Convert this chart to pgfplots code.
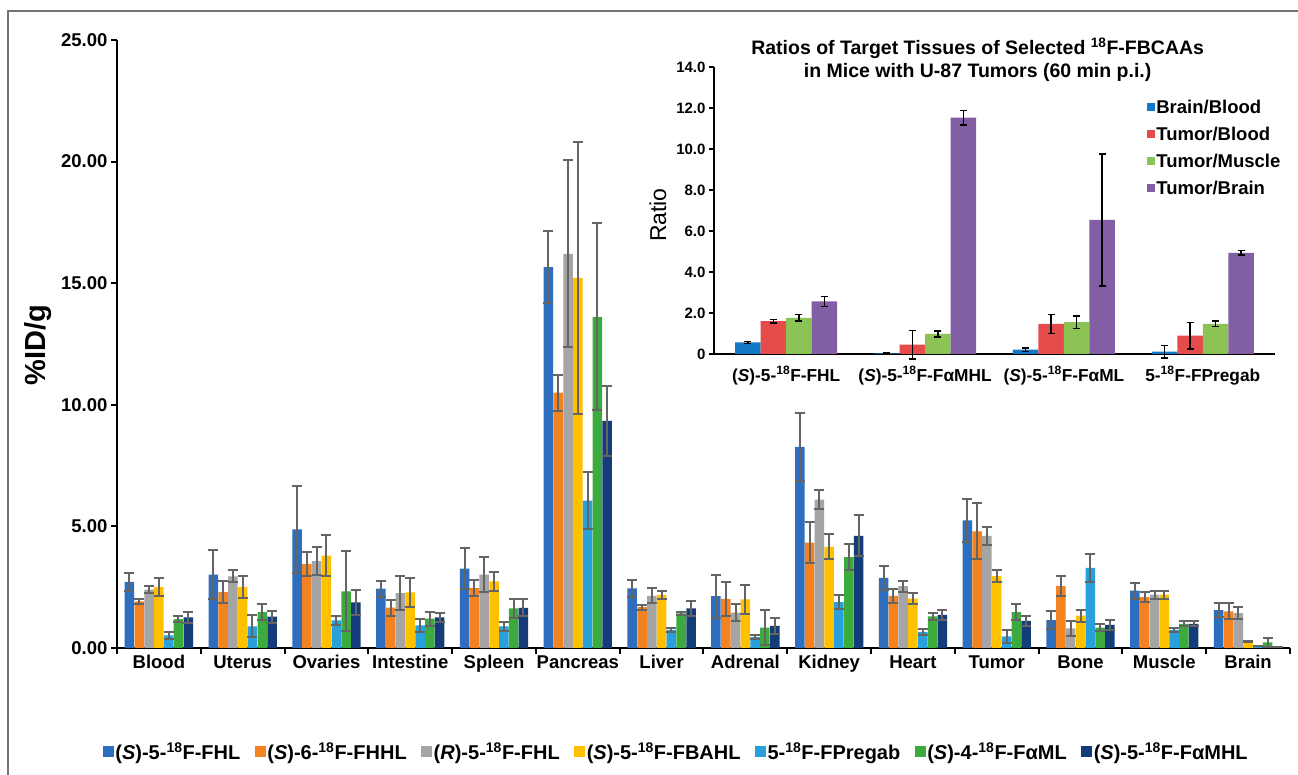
\documentclass[border=0pt]{standalone}
\usepackage{pgfplots}
\pgfplotsset{compat=1.18}
\usepackage{pgfplotstable}
\usepackage{fontspec}
\setmainfont{Liberation Sans}

\definecolor{cA}{RGB}{46,110,190}
\definecolor{cB}{RGB}{245,130,32}
\definecolor{cC}{RGB}{165,165,165}
\definecolor{cD}{RGB}{255,192,0}
\definecolor{cE}{RGB}{40,160,220}
\definecolor{cF}{RGB}{60,170,60}
\definecolor{cG}{RGB}{20,60,120}
\definecolor{iA}{RGB}{20,120,200}
\definecolor{iB}{RGB}{230,75,75}
\definecolor{iC}{RGB}{140,195,85}
\definecolor{iD}{RGB}{130,95,165}
\definecolor{errgray}{RGB}{100,100,100}

\pgfplotsset{
  mainerr/.style={error bars/.cd, y dir=both, y explicit,
    error bar style={line width=2pt, draw=errgray, solid},
    error mark=-,
    error mark options={rotate=90, line width=2pt, draw=errgray, mark size=5pt, solid}},
  insterr/.style={error bars/.cd, y dir=both, y explicit,
    error bar style={line width=1.4pt, draw=black, solid},
    error mark=-,
    error mark options={rotate=90, line width=1.4pt, draw=black, mark size=3.5pt, solid}},
}

\pgfplotstableread{
x  b1    e1   b2    e2   b3    e3   b4    e4   b5   e5   b6    e6   b7   e7
0  2.72  0.37 1.92  0.10 2.40  0.14 2.50  0.38 0.52 0.14 1.19  0.14 1.26 0.22
1  3.02  1.00 2.30  0.47 2.95  0.25 2.50  0.45 0.89 0.45 1.48  0.33 1.29 0.25
2  4.88  1.80 3.46  0.48 3.57  0.58 3.80  0.85 1.14 0.18 2.33  1.65 1.88 0.52
3  2.44  0.33 1.66  0.33 2.26  0.69 2.29  0.60 0.93 0.26 1.21  0.29 1.26 0.18
4  3.26  0.85 2.46  0.32 3.02  0.73 2.74  0.38 0.89 0.19 1.63  0.40 1.65 0.35
5  15.66 1.47 10.50 0.74 16.21 3.84 15.22 5.60 6.06 1.16 13.62 3.84 9.34 1.45
6  2.45  0.35 1.68  0.10 2.14  0.31 2.18  0.17 0.74 0.09 1.42  0.05 1.63 0.32
7  2.13  0.89 2.02  0.70 1.45  0.34 2.00  0.60 0.45 0.07 0.84  0.71 0.91 0.33
8  8.27  1.40 4.33  0.85 6.10  0.38 4.16  0.51 1.89 0.27 3.74  0.52 4.61 0.84
9  2.88  0.48 2.14  0.27 2.54  0.23 2.03  0.23 0.66 0.12 1.30  0.15 1.36 0.19
10 5.25  0.88 4.80  1.15 4.61  0.36 2.96  0.26 0.48 0.27 1.47  0.33 1.12 0.20
11 1.15  0.37 2.54  0.40 0.81  0.30 1.33  0.25 3.29 0.56 0.84  0.15 0.95 0.22
12 2.36  0.33 2.09  0.20 2.19  0.17 2.19  0.17 0.74 0.10 0.99  0.10 0.99 0.10
13 1.56  0.27 1.51  0.33 1.43  0.25 0.26  0.03 0.08 0.00 0.23  0.19 0.04 0.00
}\maindata

\pgfplotstableread{
x bb   ebb  tb   etb  tm   etm  tbr   etbr
0 0.57 0.05 1.60 0.08 1.76 0.16 2.57  0.24
1 0.03 0.04 0.46 0.70 0.98 0.15 11.53 0.36
2 0.21 0.08 1.47 0.46 1.55 0.31 6.54  3.22
3 0.11 0.30 0.90 0.65 1.47 0.13 4.93  0.11
}\insetdata

\begin{document}
\begin{tikzpicture}[x=1pt,y=1pt]
\useasboundingbox (0,0) rectangle (1298,775);
\fill[white] (0,0) rectangle (1298,775);
\draw[black!55, line width=1.3pt] (8,0) -- (8,764) -- (1298,764);

\begin{axis}[
  at={(117pt,127pt)}, anchor=south west,
  scale only axis, width=1173pt, height=608pt,
  xmin=-0.5, xmax=13.5, ymin=0, ymax=25,
  axis x line=bottom, axis y line=left,
  axis line style={-, line width=2.6pt, black},
  ybar=0.3pt, bar width=9.5pt,
  ytick={0,5,...,25},
  yticklabel style={/pgf/number format/fixed, /pgf/number format/fixed zerofill,
    /pgf/number format/precision=2, /pgf/number format/assume math mode=true,
    font=\fontsize{18.5}{20}\selectfont\bfseries},
  tick align=outside, major tick length=6pt,
  tick style={line width=2pt, black},
  xtick={-0.5,0.5,...,13.5}, xticklabels={},
  extra x ticks={0,...,13},
  extra x tick labels={Blood,Uterus,Ovaries,Intestine,Spleen,Pancreas,Liver,Adrenal,Kidney,Heart,Tumor,Bone,Muscle,Brain},
  extra x tick style={major tick length=0pt, tick style={draw=none}},
  xticklabel style={font=\fontsize{18.5}{20}\selectfont\bfseries, yshift=-4pt},
  ylabel={\%ID/g},
  ylabel style={font=\fontsize{29}{30}\selectfont\bfseries, at={(axis description cs:-0.067,0.498)}, anchor=center},
  legend columns=7,
  legend style={at={(0.4766,-0.171)}, anchor=center, draw=none, fill=none,
    font=\fontsize{20}{21}\selectfont\bfseries,
    /tikz/every even column/.append style={column sep=13pt},
    nodes={inner sep=1.5pt}},
  legend cell align=left,
  legend image code/.code={\fill[#1] (0pt,-5.5pt) rectangle (11pt,5.5pt);},
  clip=false,
]
\addplot[fill=cA, draw=none, mainerr] table[x=x, y=b1, y error=e1] {\maindata};
\addplot[fill=cB, draw=none, mainerr] table[x=x, y=b2, y error=e2] {\maindata};
\addplot[fill=cC, draw=none, mainerr] table[x=x, y=b3, y error=e3] {\maindata};
\addplot[fill=cD, draw=none, mainerr] table[x=x, y=b4, y error=e4] {\maindata};
\addplot[fill=cE, draw=none, mainerr] table[x=x, y=b5, y error=e5] {\maindata};
\addplot[fill=cF, draw=none, mainerr] table[x=x, y=b6, y error=e6] {\maindata};
\addplot[fill=cG, draw=none, mainerr] table[x=x, y=b7, y error=e7] {\maindata};
\legend{(\textit{S})-5-\textsuperscript{18}F-FHL,
  (\textit{S})-6-\textsuperscript{18}F-FHHL,
  (\textit{R})-5-\textsuperscript{18}F-FHL,
  (\textit{S})-5-\textsuperscript{18}F-FBAHL,
  5-\textsuperscript{18}F-FPregab,
  (\textit{S})-4-\textsuperscript{18}F-FαML,
  (\textit{S})-5-\textsuperscript{18}F-FαMHL}
\end{axis}

\begin{axis}[
  at={(714pt,421pt)}, anchor=south west,
  scale only axis, width=561pt, height=287pt,
  xmin=-0.52, xmax=3.52, ymin=0, ymax=14,
  axis x line=bottom, axis y line=left,
  axis line style={-, line width=2.2pt, black},
  ybar=0pt, bar width=25.5pt,
  ytick={0,2,...,14},
  yticklabels={0,2.0,4.0,6.0,8.0,10.0,12.0,14.0},
  yticklabel style={font=\fontsize{15}{16}\selectfont\bfseries},
  ytick style={line width=1.8pt, black},
  tick align=outside, major tick length=5pt,
  xtick={0,1,2,3},
  xticklabels={(\textit{S})-5-\textsuperscript{18}F-FHL,
    (\textit{S})-5-\textsuperscript{18}F-FαMHL,
    (\textit{S})-5-\textsuperscript{18}F-FαML,
    5-\textsuperscript{18}F-FPregab},
  xtick style={draw=none},
  xticklabel style={font=\fontsize{17.3}{18}\selectfont\bfseries, yshift=-4pt},
  ylabel={Ratio},
  ylabel style={font=\fontsize{23}{24}\selectfont, at={(axis description cs:-0.1,0.484)}, anchor=center},
  legend style={at={(1.018,0.898)}, anchor=north east, draw=none, fill=none,
    font=\fontsize{18.5}{19}\selectfont\bfseries, row sep=9pt,
    nodes={inner sep=1.5pt}},
  legend cell align=left,
  legend image code/.code={\fill[#1] (0pt,-4pt) rectangle (8pt,4pt);},
  clip=false,
]
\addplot[fill=iA, draw=none, insterr] table[x=x, y=bb, y error=ebb] {\insetdata};
\addplot[fill=iB, draw=none, insterr] table[x=x, y=tb, y error=etb] {\insetdata};
\addplot[fill=iC, draw=none, insterr] table[x=x, y=tm, y error=etm] {\insetdata};
\addplot[fill=iD, draw=none, insterr] table[x=x, y=tbr, y error=etbr] {\insetdata};
\legend{Brain/Blood, Tumor/Blood, Tumor/Muscle, Tumor/Brain}
\node[align=center, anchor=north, font=\fontsize{19.5}{23}\selectfont\bfseries]
  at (rel axis cs:0.47,1.115)
  {Ratios of Target Tissues of Selected \textsuperscript{18}F-FBCAAs\\in Mice with U-87 Tumors (60 min p.i.)};
\end{axis}
\end{tikzpicture}
\end{document}
